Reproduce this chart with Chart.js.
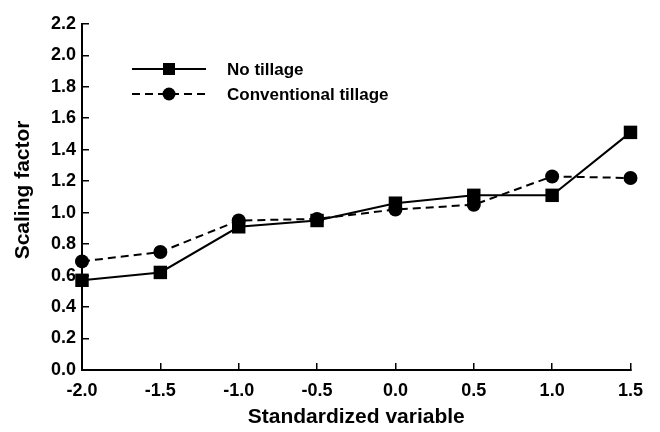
<!DOCTYPE html>
<html><head><meta charset="utf-8">
<script src="https://cdn.jsdelivr.net/npm/chart.js@4/dist/chart.umd.min.js"></script>
<style>html,body{margin:0;padding:0;background:#fff;}#wrap{width:660px;height:432px;}</style>
</head><body><div id="wrap"><canvas id="c" width="660" height="432"></canvas></div>
<script>
const xValues = [-2.0, -1.5, -1.0, -0.5, 0.0, 0.5, 1.0, 1.5];
const noTillage = [0.57, 0.62, 0.91, 0.95, 1.06, 1.11, 1.11, 1.51];
const conventionalTillage = [0.69, 0.75, 0.95, 0.96, 1.02, 1.05, 1.23, 1.22];
const seriesNames = ['No tillage', 'Conventional tillage'];
const xTitle = 'Standardized variable';
const yTitle = 'Scaling factor';

const FONT = '"Liberation Sans", Arial, Helvetica, sans-serif';

const legendPlugin = {
  id: 'insideLegend',
  afterDraw(chart) {
    const ctx = chart.ctx;
    const rows = [69, 94];
    chart.data.datasets.forEach((ds, i) => {
      const y = rows[i];
      ctx.save();
      ctx.strokeStyle = '#000';
      ctx.lineWidth = 2;
      ctx.setLineDash(ds.borderDash || []);
      ctx.beginPath();
      ctx.moveTo(132, y); ctx.lineTo(206, y);
      ctx.stroke();
      ctx.setLineDash([]);
      ctx.fillStyle = '#000';
      if (ds.pointStyle === 'rect') {
        ctx.fillRect(163, y - 6, 12, 12);
      } else {
        ctx.beginPath(); ctx.arc(169, y, 6.5, 0, Math.PI * 2); ctx.fill();
      }
      ctx.font = 'bold 17px ' + FONT;
      ctx.textBaseline = 'middle';
      ctx.textAlign = 'left';
      ctx.fillText(ds.label, 227, y + 1);
      ctx.restore();
    });
    // y axis title
    const ca = chart.chartArea;
    ctx.save();
    ctx.translate(23, (ca.top + ca.bottom) / 2 - 7);
    ctx.rotate(-Math.PI / 2);
    ctx.font = 'bold 21px ' + FONT;
    ctx.fillStyle = '#000';
    ctx.textAlign = 'center';
    ctx.textBaseline = 'middle';
    ctx.fillText(yTitle, 0, 0);
    ctx.restore();
  }
};

new Chart(document.getElementById('c'), {
  type: 'line',
  data: {
    datasets: [
      {
        label: seriesNames[0],
        data: xValues.map((x, i) => ({x: x, y: noTillage[i]})),
        borderColor: '#000', backgroundColor: '#000', borderWidth: 2,
        pointStyle: 'rect', pointRadius: 9.5, pointBackgroundColor: '#000', pointBorderWidth: 0,
        tension: 0, clip: false
      },
      {
        label: seriesNames[1],
        data: xValues.map((x, i) => ({x: x, y: conventionalTillage[i]})),
        borderColor: '#000', backgroundColor: '#000', borderWidth: 2, borderDash: [8, 5],
        pointStyle: 'circle', pointRadius: 7, pointBackgroundColor: '#000', pointBorderWidth: 0,
        tension: 0, clip: false
      }
    ]
  },
  options: {
    responsive: false,
    animation: false,
    layout: {padding: {left: 10, right: 27, top: 18, bottom: 2}},
    plugins: {legend: {display: false}, tooltip: {enabled: false}},
    scales: {
      x: {
        type: 'linear', min: -2.0, max: 1.5,
        afterFit(s) { s.height = 60; },
        ticks: {stepSize: 0.5, padding: 17, color: '#000', font: {family: FONT, size: 18, weight: 'bold'},
          callback: v => Number(v).toFixed(1)},
        grid: {drawOnChartArea: false, drawTicks: true, tickLength: -7, color: '#000', lineWidth: 1.5},
        border: {display: true, color: '#000', width: 2},
        title: {display: true, text: xTitle, color: '#000', padding: 0, font: {family: FONT, size: 21, weight: 'bold'}}
      },
      y: {
        min: 0, max: 2.2,
        afterFit(s) { s.width = 72; },
        ticks: {stepSize: 0.2, padding: 13, color: '#000', font: {family: FONT, size: 18, weight: 'bold'},
          callback: v => Number(v).toFixed(1)},
        grid: {drawOnChartArea: false, drawTicks: true, tickLength: -7, color: '#000', lineWidth: 1.5},
        border: {display: true, color: '#000', width: 2},
        title: {display: false, text: yTitle}
      }
    }
  },
  plugins: [legendPlugin]
});
</script></body></html>
